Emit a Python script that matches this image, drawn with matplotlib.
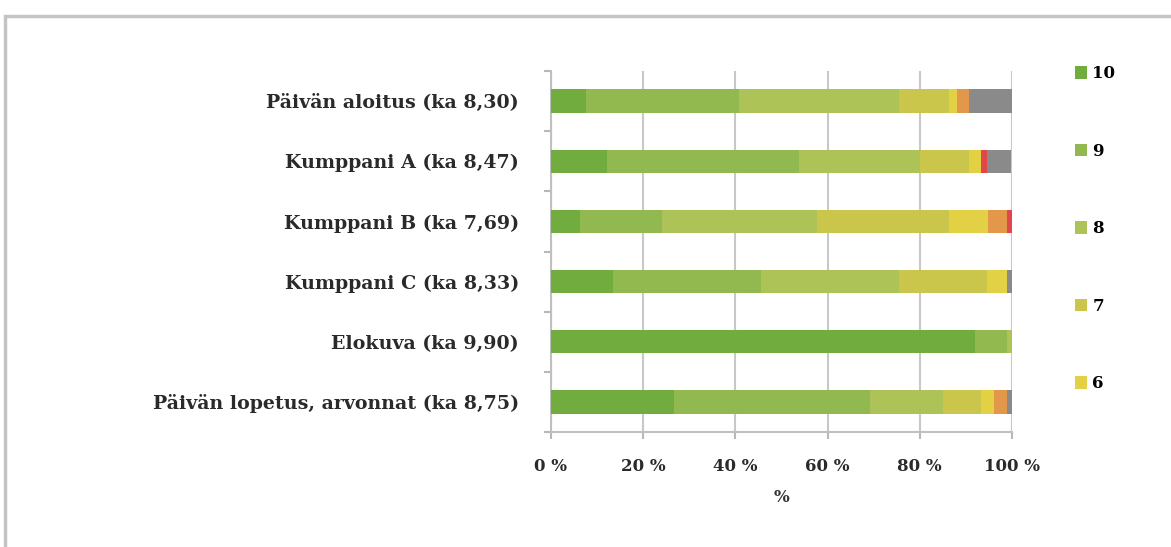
import numpy as np
import matplotlib
matplotlib.use("Agg")
import matplotlib.pyplot as plt
from matplotlib.patches import Rectangle, Patch
from matplotlib.ticker import FixedLocator, FuncFormatter

# categories, top to bottom
categories = [
    "Päivän aloitus (ka 8,30)",
    "Kumppani A (ka 8,47)",
    "Kumppani B (ka 7,69)",
    "Kumppani C (ka 8,33)",
    "Elokuva (ka 9,90)",
    "Päivän lopetus, arvonnat (ka 8,75)",
]

# share of answers (%) per grade, same order as categories
s10 = [7.6, 12.1, 6.3, 13.4, 92.0, 26.7]
s9 = [33.1, 41.8, 17.7, 32.2, 6.9, 42.4]
s8 = [34.9, 26.1, 33.7, 30.0, 1.1, 15.9]
s7 = [10.7, 10.7, 28.6, 19.0, 0.0, 8.3]
s6 = [1.8, 2.6, 8.4, 4.3, 0.0, 2.9]
s5 = [2.6, 0.0, 4.2, 0.0, 0.0, 2.7]
s4 = [0.0, 1.2, 1.1, 0.0, 0.0, 0.0]
s_other = [9.3, 5.3, 0.0, 1.1, 0.0, 1.1]

series_names = ["10", "9", "8", "7", "6", "5", "4", "muu"]
series_vals = [s10, s9, s8, s7, s6, s5, s4, s_other]
colors = ["#71ac3f", "#91b94f", "#adc257", "#c9c64b", "#e2d145",
          "#e2974b", "#e0474a", "#8a8a8a"]

serif = ["DejaVu Serif"]
FS = 12

fig = plt.figure(figsize=(11.71, 5.47), dpi=100)
ax = fig.add_axes([0.4705, 0.2102, 0.3937, 0.6600])

# outer chart frame
fig.patches.append(Rectangle((0.004, -0.05), 1.2, 1.021, transform=fig.transFigure,
                             fill=False, edgecolor="#c4c4c4", lw=2.5))

y = np.arange(len(categories))
left = np.zeros(len(categories))
for name, vals, col in zip(series_names, series_vals, colors):
    vals = np.array(vals)
    ax.barh(y, vals, left=left, height=0.39, color=col, label=name,
            edgecolor="none", zorder=3)
    left += vals

ax.set_xlim(0, 100)
ax.set_ylim(len(categories) - 0.5, -0.5)

ax.xaxis.set_major_locator(FixedLocator([0, 20, 40, 60, 80, 100]))
ax.xaxis.set_major_formatter(FuncFormatter(lambda v, _: f"{v:.0f} %"))
ax.grid(axis="x", color="#c8c8c8", lw=1.5, zorder=0)

ax.set_yticks(y)
ax.set_yticklabels(categories)
ax.yaxis.set_minor_locator(FixedLocator(np.arange(-0.5, len(categories), 1.0)))
ax.tick_params(axis="y", which="major", length=0, pad=23)
ax.tick_params(axis="y", which="minor", length=5, color="#b8b8b8", width=1.5)
ax.tick_params(axis="x", length=5, color="#b8b8b8", width=1.5, pad=14)

for sp in ["top", "right"]:
    ax.spines[sp].set_visible(False)
for sp in ["left", "bottom"]:
    ax.spines[sp].set_color("#c0c0c0")
    ax.spines[sp].set_linewidth(1.5)

for lab in ax.get_yticklabels():
    lab.set_fontfamily(serif)
    lab.set_fontweight("bold")
    lab.set_fontsize(13.7)
    lab.set_color("#2a2a2a")
for lab in ax.get_xticklabels():
    lab.set_fontfamily(serif)
    lab.set_fontweight("bold")
    lab.set_fontsize(FS)
    lab.set_color("#2a2a2a")

ax.set_xlabel("%", fontfamily=serif, fontweight="bold", fontsize=FS,
              color="#333333", labelpad=10)

handles = [Patch(facecolor=c, edgecolor="none") for c in colors[:5]]
leg = fig.legend(handles, series_names[:5], loc="upper left",
                 bbox_to_anchor=(0.905, 0.908), frameon=False,
                 handlelength=0.75, handleheight=0.75, handletextpad=0.3,
                 labelspacing=3.63,
                 prop={"family": serif, "weight": "bold", "size": FS})

fig.savefig("out.png", dpi=100, facecolor="white")
